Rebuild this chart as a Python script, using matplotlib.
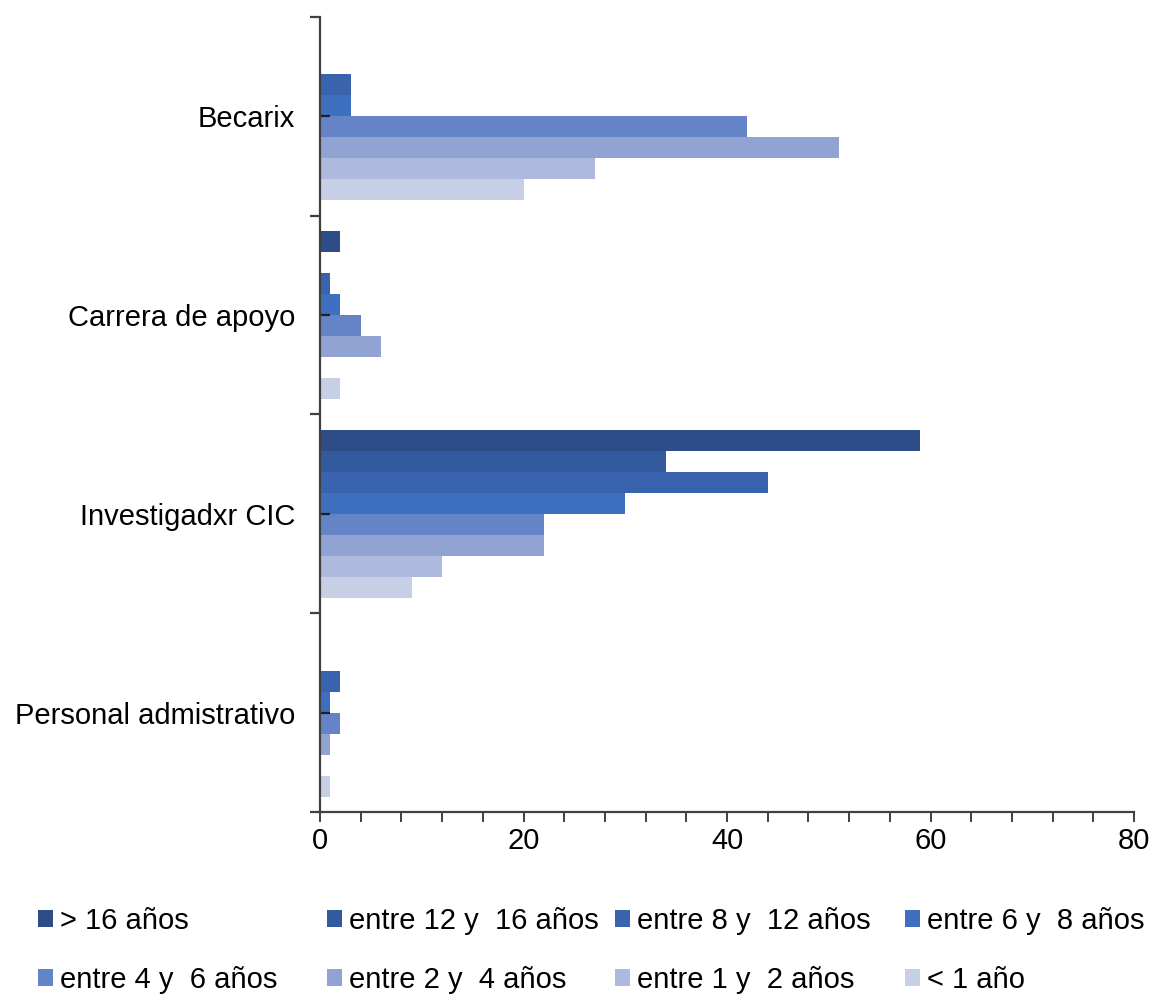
import numpy as np
import matplotlib
matplotlib.use("Agg")
import matplotlib.pyplot as plt
from matplotlib.ticker import MultipleLocator, FixedLocator

plt.rcParams['font.family'] = ['Liberation Sans', 'DejaVu Sans']

categories = ["Becarix", "Carrera de apoyo", "Investigadxr CIC", "Personal admistrativo"]
series = ["> 16 años", "entre 12 y  16 años", "entre 8 y  12 años", "entre 6 y  8 años",
          "entre 4 y  6 años", "entre 2 y  4 años", "entre 1 y  2 años", "< 1 año"]

mas_16 = [0, 2, 59, 0]
entre_12_16 = [0, 0, 34, 0]
entre_8_12 = [3, 1, 44, 2]
entre_6_8 = [3, 2, 30, 1]
entre_4_6 = [42, 4, 22, 2]
entre_2_4 = [51, 6, 22, 1]
entre_1_2 = [27, 0, 12, 0]
menos_1 = [20, 2, 9, 1]
values = [mas_16, entre_12_16, entre_8_12, entre_6_8, entre_4_6, entre_2_4, entre_1_2, menos_1]

colors = ["#2E4D88", "#33599F", "#3A63AD", "#3F6FBF",
          "#6584C8", "#90A3D3", "#AEBADD", "#C7CFE6"]

W, H = 1154, 996
fig = plt.figure(figsize=(W / 100, H / 100), dpi=100)
ax = fig.add_axes([320 / W, 1 - 812 / H, (1134 - 320) / W, (812 - 17) / H])

y = np.arange(len(categories))
h = 0.1057
bars = []
for i, (name, vals, c) in enumerate(zip(series, values, colors)):
    bars.append(ax.barh(y + (i - 3.5) * h, vals, height=h, color=c, label=name, linewidth=0))

ax.set_xlim(0, 80)
ax.set_ylim(len(categories) - 0.5, -0.5)

spine_color = "#404040"
for s in ["top", "right"]:
    ax.spines[s].set_visible(False)
for s in ["left", "bottom"]:
    ax.spines[s].set_color(spine_color)
    ax.spines[s].set_linewidth(1.6)

# x axis: ticks every 4, labels every 20
ax.xaxis.set_major_locator(MultipleLocator(20))
ax.xaxis.set_minor_locator(MultipleLocator(4))
ax.tick_params(axis="x", which="both", direction="out", length=7, width=1.4,
               color=spine_color, labelsize=21, pad=4)

# y axis: category labels at centres, boundary ticks between groups
ax.set_yticks(y)
ax.set_yticklabels(categories)
ax.yaxis.set_minor_locator(FixedLocator(np.arange(-0.5, len(categories), 1.0)))
ax.tick_params(axis="y", which="major", direction="in", length=7, width=1.6,
               color="#202020", labelsize=21, pad=18)
ax.tick_params(axis="y", which="minor", direction="out", length=7, width=1.6,
               color=spine_color)

# legend: two rows of four, one small legend per column
col_x = [38, 327, 615, 905]
for j, x0 in enumerate(col_x):
    idx = [j, j + 4]
    fig.legend([bars[k] for k in idx], [series[k] for k in idx],
               loc="upper left", bbox_to_anchor=(x0 / W, 1 - 907 / H),
               ncol=1, frameon=False, fontsize=21,
               handlelength=0.52, handleheight=0.52, handletextpad=0.25,
               labelspacing=1.05, borderpad=0.0, borderaxespad=0.0)

fig.savefig("out.png", dpi=100)
